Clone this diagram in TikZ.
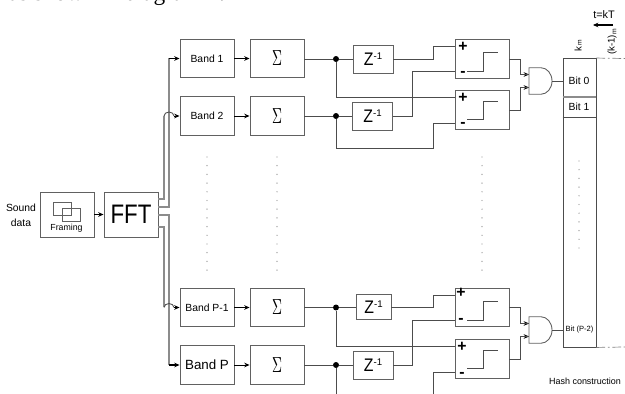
\documentclass[tikz,border=0pt]{standalone}
\usepackage{amsmath, amssymb}
\usepackage{fontspec}
\setmainfont{Liberation Sans}
\newfontfamily\pagefont{Liberation Serif}
\usepackage{tikz}
\usetikzlibrary{calc, positioning, arrows.meta}

\tikzset{
    block/.style={draw=black!62, line width=0.55pt, inner sep=0pt, minimum width=54*0.02cm, minimum height=38.5*0.02cm, font=\fontsize{5.9}{7}\selectfont},
    delaybox/.style={block, minimum width=40*0.02cm, minimum height=28*0.02cm, font=\fontsize{9}{10}\selectfont},
    gateline/.style={draw=black!62, line width=0.5pt},
    wire/.style={black!70, line width=0.5pt},
    feed/.style={black!45, line width=0.8pt},
    tip/.style={-{Stealth[length=3pt,width=2.6pt]}, black},
    dotrow/.style={black!40},
    sign/.style={font=\bfseries\fontsize{9}{10}\selectfont, inner sep=0pt},
    dotnode/.style={circle, fill=black, inner sep=0pt, minimum size=3.4pt}
}

\newcommand{\zinv}{\scalebox{1}[1.15]{Z}\raisebox{3.4pt}{\fontsize{5.5}{6}\selectfont -1}}

\begin{document}
\begin{tikzpicture}[x=0.02cm, y=-0.02cm]

    % =================================================================
    % 1. PAGE FRAME
    % =================================================================
    \useasboundingbox (0,0) rectangle (625,394);
    \clip (0,0) rectangle (625,394);

    % cropped line of running text above the figure
    \node[anchor=base west, inner sep=0pt, font=\pagefont\fontsize{13.3}{15}\selectfont] (running) at (8.5,0.8) {as shown in diagram 1.};

    % =================================================================
    % 2. INPUT, FRAMING AND FFT
    % =================================================================
    \node[align=center, inner sep=0pt, font=\fontsize{5.9}{8.5}\selectfont] (sound) at (21,215.5) {Sound\\data};
    \node[block, minimum height=45*0.02cm] (framing) at (67,214.5) {};
    \node[block, minimum height=45*0.02cm, font=\fontsize{12.7}{15}\selectfont] (fft) at (131,214.5) {\scalebox{1}[1.2]{FFT}};
    \node[font=\fontsize{5}{6}\selectfont, inner sep=0pt] (framelabel) at (66.5,228) {Framing};
    \draw[black!62] (53.5,202.5) rectangle (71.5,215.5);
    \draw[black!62] (62.5,208.5) rectangle (80,221);
    \draw[wire, tip] (framing) -- (fft);

    % =================================================================
    % 3. BANDS AND SUMS
    % =================================================================
    \node[block] (band1) at (207,58.5) {Band 1};
    \node[block] (band2) at (207,116) {Band 2};
    \node[block] (band3) at (207,307.5) {Band P-1};
    \node[block, font=\fontsize{7.6}{9}\selectfont] (band4) at (207,365) {Band P};

    \foreach \i/\y in {1/58.5, 2/116, 3/307.5, 4/365} {
        \node[block, font=\fontsize{8}{9}\selectfont] (sum\i) at (277,\y) {\scalebox{0.92}[1.55]{$\Sigma$}};
        \draw[wire, tip] (band\i) -- (sum\i);
    }

    % FFT outputs, the two inner ones hop over the outer ones
    \coordinate (out1) at (158,199);
    \coordinate (out2) at (158,207);
    \coordinate (out3) at (158,215);
    \coordinate (out4) at (158,227);

    \draw[feed] (out2) -| (169,58.5);
    \draw[feed, tip] (169,58.5) -- (band1.west);
    \draw[feed] (out3) -| (169,365);
    \draw[feed, tip] (169,365) -- (band4.west);
    \draw[feed] (out1) -| (164,116);
    \draw[feed] (out4) -| (164,307.5);
    \draw[wire] (164,116) arc (180:360:5 and 4);
    \draw[wire, tip] (174,116) -- (band2.west);
    \draw[wire] (164,307.5) arc (180:360:5 and 4);
    \draw[wire, tip] (174,307.5) -- (band3.west);

    % =================================================================
    % 4. DELAYS AND COMPARATORS
    % =================================================================
    \node[delaybox] (delay1) at (373,59) {\zinv};
    \node[delaybox] (delay2) at (372.5,116) {\zinv};
    \node[delaybox, minimum width=35*0.02cm, minimum height=25.5*0.02cm] (delay3) at (373.5,307) {\zinv};
    \node[delaybox] (delay4) at (373,365) {\zinv};

    \node[block] (comp1) at (482,59) {};
    \node[block] (comp2) at (482,110) {};
    \node[block] (comp3) at (482,307.5) {};
    \node[block] (comp4) at (482,359) {};

    % step curve, plus and minus in each comparator
    \foreach \i/\ylo/\yhi/\yp/\ym/\xs in {1/71/52.5/47/74/463, 2/119/101/98/125/463, 3/320/301/293/321/461, 4/368/350/347/375/462} {
        \draw[wire] (467,\ylo) -- (483,\ylo) -- (483,\yhi) -- (498,\yhi);
        \node[sign] (plus\i) at (\xs,\yp) {+};
        \node[sign] (minus\i) at (\xs,\ym) {-};
    }

    % =================================================================
    % 5. JUNCTIONS AND WIRING OF THE DELAY STAGE
    % =================================================================
    \foreach \i/\y in {1/59, 2/116, 3/307.5, 4/365} {
        \node[dotnode] (join\i) at (336,\y) {};
        \draw[wire] (sum\i.east |- join\i) -- (join\i);
        \draw[wire] (join\i) -- (delay\i.west |- join\i);
    }

    \coordinate (endA) at (336,394);
    \coordinate (endB) at (433,394);

    \draw[wire] (delay1.east) -- (433,59) -- (433,46.5) -- (comp1.west |- 0,46.5);
    \draw[wire] (comp1.west |- 0,71) -- (412,71) -- (412,116.5) -- (delay2.east |- 0,116.5);
    \draw[wire] (join1) -- (336,97) -- (comp2.west |- 0,97);
    \draw[wire] (join2) -- (336,148.5) -- (433.5,148.5) -- (433.5,123) -- (comp2.west |- 0,123);

    \draw[wire] (delay3.east) -- (433,307) -- (433,295) -- (comp3.west |- 0,295);
    \draw[wire] (comp3.west |- 0,320) -- (412,320) -- (412,365) -- (delay4.east);
    \draw[wire] (join3) -- (336,346) -- (comp4.west |- 0,346);
    \draw[wire] (join4) -- (endA);
    \draw[wire] (comp4.west |- 0,372) -- (433,372) -- (endB);

    % =================================================================
    % 6. AND GATES
    % =================================================================
    \foreach \i/\y in {1/81, 2/330} {
        \coordinate (gatea\i) at (529,\y-6.5);
        \coordinate (gateb\i) at (529,\y+6.5);
        \coordinate (gatec\i) at (552,\y);
        \draw[gateline] (529,\y-13.25) -- (541,\y-13.25) arc (-90:90:11 and 13.25) -- (529,\y+13.25) -- cycle;
        \draw[tip] ($(gatea\i)+(-5,0)$) -- (gatea\i);
        \draw[tip] ($(gateb\i)+(-5,0)$) -- (gateb\i);
    }

    \draw[wire] (comp1.east) -- (520,59) |- (gatea1);
    \draw[wire] (comp2.east) -- (520,110) |- (gateb1);
    \draw[wire] (comp3.east) -- (520,307.5) |- (gatea2);
    \draw[wire] (comp4.east) -- (520,359) |- (gateb2);

    % =================================================================
    % 7. HASH COLUMN
    % =================================================================
    \node[draw=black!70, line width=0.5pt, minimum width=33*0.02cm, minimum height=288.5*0.02cm, inner sep=0pt] (hash) at (579.5,202.75) {};
    \draw[feed] (hash.west |- 0,97) -- (hash.east |- 0,97);
    \draw[wire] (hash.west |- 0,117.5) -- (hash.east |- 0,117.5);
    \draw[wire] (gatec1) -- (hash.west |- gatec1);
    \draw[wire] (gatec2) -- (hash.west |- gatec2);

    \coordinate (edgeA) at (625,58.5);
    \coordinate (edgeB) at (625,347);
    \draw[black!50, dash pattern=on 5pt off 1.5pt on 1pt off 1.5pt] (hash.north east) -- (edgeA);
    \draw[black!50, dash pattern=on 5pt off 1.5pt on 1pt off 1.5pt] (hash.south east) -- (edgeB);

    \node[font=\fontsize{5.9}{7}\selectfont, inner sep=0pt] (bit0) at (579,80.5) {Bit 0};
    \node[font=\fontsize{5.9}{7}\selectfont, inner sep=0pt] (bit1) at (579,107) {Bit 1};
    \node[font=\fontsize{4.3}{5}\selectfont, inner sep=0pt] (bitp) at (579.5,330) {Bit (P-2)};
    \node[font=\fontsize{5.1}{6}\selectfont, inner sep=0pt] (hashtitle) at (585,381) {Hash construction};

    % time labels over the column
    \node[font=\fontsize{6.2}{7}\selectfont, inner sep=0pt] (time) at (604,14.5) {t=kT};
    \coordinate (arrowR) at (613,25);
    \coordinate (arrowL) at (593,25);
    \draw[tip, line width=0.7pt] (arrowR) -- (arrowL);
    \node[rotate=90, font=\fontsize{5.5}{7}\selectfont, inner sep=0pt] (kthis) at (578,45.5) {k\,{\fontsize{3.8}{5}\selectfont m}};
    \node[rotate=90, font=\fontsize{5.5}{7}\selectfont, inner sep=0pt] (kprev) at (612,41.5) {(k-1)\textsubscript{m}};

    % =================================================================
    % 8. DOTTED ROWS
    % =================================================================
    \foreach \x in {207, 277, 482} {
        \foreach \n in {0,...,13} {
            \fill[dotrow] (\x,157+\n*8.7) circle (0.4pt);
        }
    }
    \foreach \n in {0,...,10} {
        \fill[dotrow] (579,161+\n*8.7) circle (0.4pt);
    }

\end{tikzpicture}
\end{document}
